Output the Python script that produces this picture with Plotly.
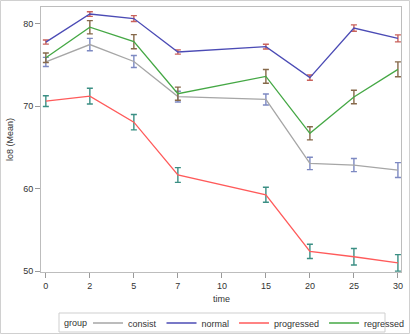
import plotly.graph_objects as go

time_labels = ["0", "2", "5", "7", "10", "15", "20", "25", "30"]
obs_times = ["0", "2", "5", "7", "15", "20", "25", "30"]

groups = ["consist", "normal", "progressed", "regressed"]

consist_mean = [75.35, 77.45, 75.4, 71.15, 70.8, 63.05, 62.85, 62.25]
consist_err = [0.55, 0.75, 0.73, 0.65, 0.67, 0.75, 0.79, 0.9]

normal_mean = [77.75, 81.15, 80.6, 76.55, 77.2, 73.45, 79.45, 78.2]
normal_err = [0.25, 0.28, 0.36, 0.26, 0.28, 0.32, 0.38, 0.42]

progressed_mean = [70.6, 71.2, 68.05, 61.65, 59.25, 52.4, 51.75, 51.0]
progressed_err = [0.65, 0.95, 0.93, 0.89, 0.91, 0.87, 1.0, 1.0]

regressed_mean = [75.85, 79.55, 77.8, 71.5, 73.6, 66.7, 71.1, 74.45]
regressed_err = [0.57, 0.8, 0.85, 0.8, 0.83, 0.8, 0.82, 0.9]

means = [consist_mean, normal_mean, progressed_mean, regressed_mean]
errs = [consist_err, normal_err, progressed_err, regressed_err]
line_colors = ["#A6A6A6", "#4B4BB5", "#FF5A5A", "#45A845"]
err_colors = ["#7D89C2", "#C9625C", "#3B8F84", "#86694A"]

# discrete axis: equally spaced position for each time category
cat_pos = {t: i for i, t in enumerate(time_labels)}
x_pos = [cat_pos[t] for t in obs_times]

fig = go.Figure()
for g, m, e, lc, ec in zip(groups, means, errs, line_colors, err_colors):
    fig.add_trace(go.Scatter(
        x=x_pos, y=m, mode="lines", name=g,
        line=dict(color=lc, width=1.3),
        error_y=dict(type="data", array=e, visible=True, color=ec,
                     thickness=1.4, width=3),
    ))

font_fam = "Liberation Sans, Arial, sans-serif"
txt = "#333333"
fig.update_layout(
    width=410, height=334,
    margin=dict(l=41, r=9, t=7, b=62, autoexpand=False),
    paper_bgcolor="white", plot_bgcolor="white",
    font=dict(family=font_fam, size=9, color=txt),
    showlegend=True,
    legend=dict(
        orientation="h", xref="container", yref="container",
        x=88 / 410, xanchor="left", y=1 - 323 / 334, yanchor="middle",
        borderwidth=0, bgcolor="rgba(0,0,0,0)",
        font=dict(size=9, color=txt),
        itemwidth=30, tracegroupgap=0,
    ),
    xaxis=dict(
        type="linear", tickmode="array",
        tickvals=list(range(len(time_labels))), ticktext=time_labels,
        range=[-0.11, 8.07],
        showline=True, linecolor="#BDBDBD", linewidth=1, mirror=True,
        ticks="outside", ticklen=5, tickcolor="#9A9A9A",
        showgrid=False, zeroline=False,
        tickfont=dict(size=9, color=txt),
    ),
    yaxis=dict(
        range=[49.9, 82.0],
        tickvals=[50, 60, 70, 80],
        showline=True, linecolor="#BDBDBD", linewidth=1, mirror=True,
        ticks="outside", ticklen=5, tickcolor="#9A9A9A",
        showgrid=False, zeroline=False,
        tickfont=dict(size=9, color=txt),
        title=dict(text="lo8 (Mean)", font=dict(size=9, color=txt), standoff=8),
    ),
    annotations=[
        dict(
            text="time", xref="paper", yref="paper",
            x=0.5, y=(272 - 299) / 265,
            xanchor="center", yanchor="middle", showarrow=False,
            font=dict(size=9, color=txt),
        ),
        dict(
            text="group", xref="paper", yref="paper",
            x=(62 - 41) / 360, y=(272 - 323) / 265,
            xanchor="left", yanchor="middle", showarrow=False,
            font=dict(size=9, color=txt),
        ),
    ],
    shapes=[
        dict(
            type="rect", xref="paper", yref="paper",
            x0=(0.5 - 41) / 360, x1=(409.5 - 41) / 360,
            y0=(272 - 333.5) / 265, y1=(272 - 0.5) / 265,
            line=dict(color="#D0D0D0", width=1), fillcolor="rgba(0,0,0,0)",
            layer="below",
        ),
        dict(
            type="rect", xref="paper", yref="paper",
            x0=(59 - 41) / 360, x1=(385 - 41) / 360,
            y0=(272 - 332) / 265, y1=(272 - 313) / 265,
            line=dict(color="#CFCFCF", width=1), fillcolor="rgba(0,0,0,0)",
            layer="below",
        ),
    ],
)

fig.write_html("out.html")
